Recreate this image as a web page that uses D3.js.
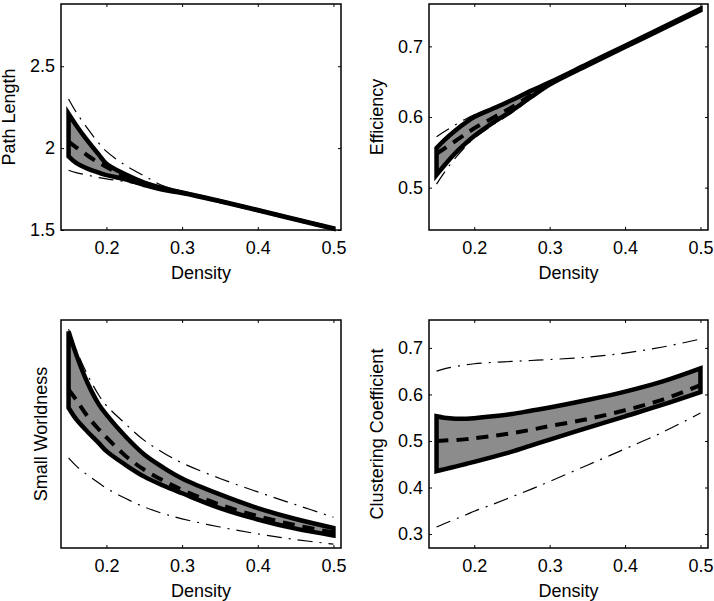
<!DOCTYPE html>
<html><head><meta charset="utf-8">
<script src="https://cdn.jsdelivr.net/npm/d3@7"></script>
<style>html,body{margin:0;padding:0;background:#fff;}svg{display:block;font-family:"Liberation Sans",Arial,Helvetica,sans-serif;}</style>
</head><body>
<svg id="chart" width="714" height="601"></svg>
<script>
// ---- data ----
const density = [0.15, 0.16, 0.175, 0.19, 0.2, 0.225, 0.25, 0.275, 0.3, 0.35, 0.4, 0.45, 0.5];

const pathUpper  = [2.21, 2.14, 2.045, 1.96, 1.905, 1.84, 1.79, 1.755, 1.73, 1.677, 1.622, 1.566, 1.51];
const pathMean   = [2.04, 2.005, 1.955, 1.91, 1.885, 1.825, 1.782, 1.75, 1.728, 1.676, 1.621, 1.565, 1.509];
const pathLower  = [1.95, 1.91, 1.875, 1.85, 1.835, 1.81, 1.775, 1.745, 1.726, 1.675, 1.62, 1.564, 1.508];
const pathDDUp   = [2.30, 2.22, 2.12, 2.03, 1.98, 1.895, 1.83, 1.77, 1.735, 1.678, 1.623, 1.567, 1.511];
const pathDDLow  = [1.865, 1.85, 1.835, 1.82, 1.812, 1.795, 1.77, 1.742, 1.724, 1.674, 1.619, 1.563, 1.507];

const effUpper   = [0.556, 0.567, 0.581, 0.593, 0.600, 0.612, 0.624, 0.637, 0.649, 0.675, 0.701, 0.727, 0.753];
const effMean    = [0.548, 0.555, 0.566, 0.577, 0.584, 0.599, 0.614, 0.631, 0.648, 0.674, 0.700, 0.726, 0.752];
const effLower   = [0.518, 0.531, 0.549, 0.564, 0.573, 0.592, 0.609, 0.628, 0.646, 0.673, 0.699, 0.725, 0.751];
const effDDUp    = [0.572, 0.579, 0.589, 0.598, 0.603, 0.614, 0.625, 0.637, 0.649, 0.675, 0.701, 0.727, 0.753];
const effDDLow   = [0.505, 0.521, 0.542, 0.560, 0.570, 0.589, 0.606, 0.626, 0.645, 0.673, 0.699, 0.725, 0.751];

const swUpper    = [0.95, 0.85, 0.725, 0.63, 0.585, 0.49, 0.41, 0.353, 0.305, 0.235, 0.175, 0.127, 0.088];
const swMean     = [0.695, 0.65, 0.578, 0.52, 0.485, 0.405, 0.343, 0.296, 0.255, 0.19, 0.14, 0.1, 0.068];
const swLower    = [0.615, 0.565, 0.51, 0.46, 0.425, 0.365, 0.313, 0.274, 0.24, 0.175, 0.125, 0.085, 0.055];
const swDDUp     = [0.96, 0.87, 0.76, 0.67, 0.625, 0.545, 0.472, 0.418, 0.373, 0.305, 0.246, 0.19, 0.135];
const swDDLow    = [0.395, 0.36, 0.32, 0.285, 0.262, 0.218, 0.18, 0.151, 0.128, 0.092, 0.062, 0.037, 0.017];

const ccUpper    = [0.553, 0.55, 0.548, 0.548, 0.549, 0.553, 0.558, 0.565, 0.572, 0.588, 0.606, 0.628, 0.656];
const ccMean     = [0.50, 0.501, 0.502, 0.504, 0.506, 0.511, 0.517, 0.524, 0.532, 0.547, 0.566, 0.589, 0.62];
const ccLower    = [0.435, 0.439, 0.445, 0.451, 0.455, 0.466, 0.477, 0.49, 0.503, 0.528, 0.553, 0.578, 0.605];
const ccDDUp     = [0.65, 0.655, 0.66, 0.664, 0.666, 0.669, 0.671, 0.673, 0.675, 0.68, 0.689, 0.702, 0.719];
const ccDDLow    = [0.315, 0.322, 0.332, 0.342, 0.349, 0.364, 0.38, 0.396, 0.413, 0.448, 0.483, 0.519, 0.56];

const xTicks = [0.2, 0.3, 0.4, 0.5];
const xTickLabels = ["0.2", "0.3", "0.4", "0.5"];
const pathTicks = [1.5, 2, 2.5];
const pathTickLabels = ["1.5", "2", "2.5"];
const effTicks = [0.5, 0.6, 0.7];
const effTickLabels = ["0.5", "0.6", "0.7"];
const ccTicks = [0.3, 0.4, 0.5, 0.6, 0.7];
const ccTickLabels = ["0.3", "0.4", "0.5", "0.6", "0.7"];
const swTicks = [];
const swTickLabels = [];

const xLabel = "Density";

// ---- drawing ----
const svg = d3.select("#chart");
const FONT = 18;
const FAMILY = '"Liberation Sans",Arial,Helvetica,sans-serif';

function panel(cfg) {
  const {left, right, top, bottom, yDomain, upper, mean, lower, ddUp, ddLow,
         yTicks, yTickLabels, yLabel, yLabelX} = cfg;
  const x = d3.scaleLinear().domain([0.14, 0.51]).range([left, right]);
  const y = d3.scaleLinear().domain(yDomain).range([bottom, top]);
  const g = svg.append("g");
  const rows = density.map((d, i) => ({x: d, up: upper[i], mn: mean[i], lo: lower[i], du: ddUp[i], dl: ddLow[i]}));
  const curve = d3.curveCatmullRom.alpha(0.5);

  // dash-dot outer lines
  const ddStyle = sel => sel.attr("fill", "none").attr("stroke", "#000")
    .attr("stroke-width", 1.2).attr("stroke-dasharray", "15,7,2,7");
  g.append("path").datum(rows).call(ddStyle)
    .attr("d", d3.line().x(d => x(d.x)).y(d => y(d.du)).curve(curve));
  g.append("path").datum(rows).call(ddStyle)
    .attr("d", d3.line().x(d => x(d.x)).y(d => y(d.dl)).curve(curve));

  // band
  g.append("path").datum(rows)
    .attr("fill", "#8c8c8c").attr("stroke", "#000").attr("stroke-width", 4.5)
    .attr("stroke-linejoin", "miter")
    .attr("d", d3.area().x(d => x(d.x)).y0(d => y(d.lo)).y1(d => y(d.up)).curve(curve));

  // mean dashed
  g.append("path").datum(rows)
    .attr("fill", "none").attr("stroke", "#000").attr("stroke-width", 4)
    .attr("stroke-dasharray", "12,8")
    .attr("d", d3.line().x(d => x(d.x)).y(d => y(d.mn)).curve(curve));

  // box
  g.append("rect").attr("x", left).attr("y", top)
    .attr("width", right - left).attr("height", bottom - top)
    .attr("fill", "none").attr("stroke", "#000").attr("stroke-width", 1.5);

  // axes (inward ticks, mirrored)
  const ax = (sel) => { sel.select(".domain").remove(); sel.selectAll("line").attr("stroke", "#000").attr("stroke-width", 1); };
  g.append("g").attr("transform", `translate(0,${bottom})`)
    .call(d3.axisBottom(x).tickValues(xTicks).tickFormat((d, i) => xTickLabels[i]).tickSize(-3).tickPadding(11))
    .call(ax)
    .selectAll("text").attr("font-size", FONT).attr("font-family", FAMILY).attr("fill", "#000");
  g.append("g").attr("transform", `translate(0,${top})`)
    .call(d3.axisTop(x).tickValues(xTicks).tickFormat("").tickSize(-3)).call(ax);
  if (yTicks.length) {
    g.append("g").attr("transform", `translate(${left},0)`)
      .call(d3.axisLeft(y).tickValues(yTicks).tickFormat((d, i) => yTickLabels[i]).tickSize(-3).tickPadding(6))
      .call(ax)
      .selectAll("text").attr("font-size", FONT).attr("font-family", FAMILY).attr("fill", "#000");
    g.append("g").attr("transform", `translate(${right},0)`)
      .call(d3.axisRight(y).tickValues(yTicks).tickFormat("").tickSize(-3)).call(ax);
  }

  // labels
  g.append("text").attr("x", (left + right) / 2).attr("y", bottom + 49)
    .attr("text-anchor", "middle").attr("font-size", FONT).text(xLabel);
  g.append("text")
    .attr("transform", `translate(${yLabelX},${(top + bottom) / 2}) rotate(-90)`)
    .attr("text-anchor", "middle").attr("font-size", FONT).text(yLabel);
}

panel({left: 61, right: 341, top: 4, bottom: 230, yDomain: [1.5, 2.88],
  upper: pathUpper, mean: pathMean, lower: pathLower, ddUp: pathDDUp, ddLow: pathDDLow,
  yTicks: pathTicks, yTickLabels: pathTickLabels, yLabel: "Path Length", yLabelX: 15});
panel({left: 429, right: 708, top: 4, bottom: 230, yDomain: [0.44, 0.76],
  upper: effUpper, mean: effMean, lower: effLower, ddUp: effDDUp, ddLow: effDDLow,
  yTicks: effTicks, yTickLabels: effTickLabels, yLabel: "Efficiency", yLabelX: 383});
panel({left: 61, right: 341, top: 320, bottom: 548, yDomain: [0, 1],
  upper: swUpper, mean: swMean, lower: swLower, ddUp: swDDUp, ddLow: swDDLow,
  yTicks: swTicks, yTickLabels: swTickLabels, yLabel: "Small Worldness", yLabelX: 47});
panel({left: 429, right: 708, top: 320, bottom: 548, yDomain: [0.27, 0.76],
  upper: ccUpper, mean: ccMean, lower: ccLower, ddUp: ccDDUp, ddLow: ccDDLow,
  yTicks: ccTicks, yTickLabels: ccTickLabels, yLabel: "Clustering Coefficient", yLabelX: 383});
</script>
</body></html>
